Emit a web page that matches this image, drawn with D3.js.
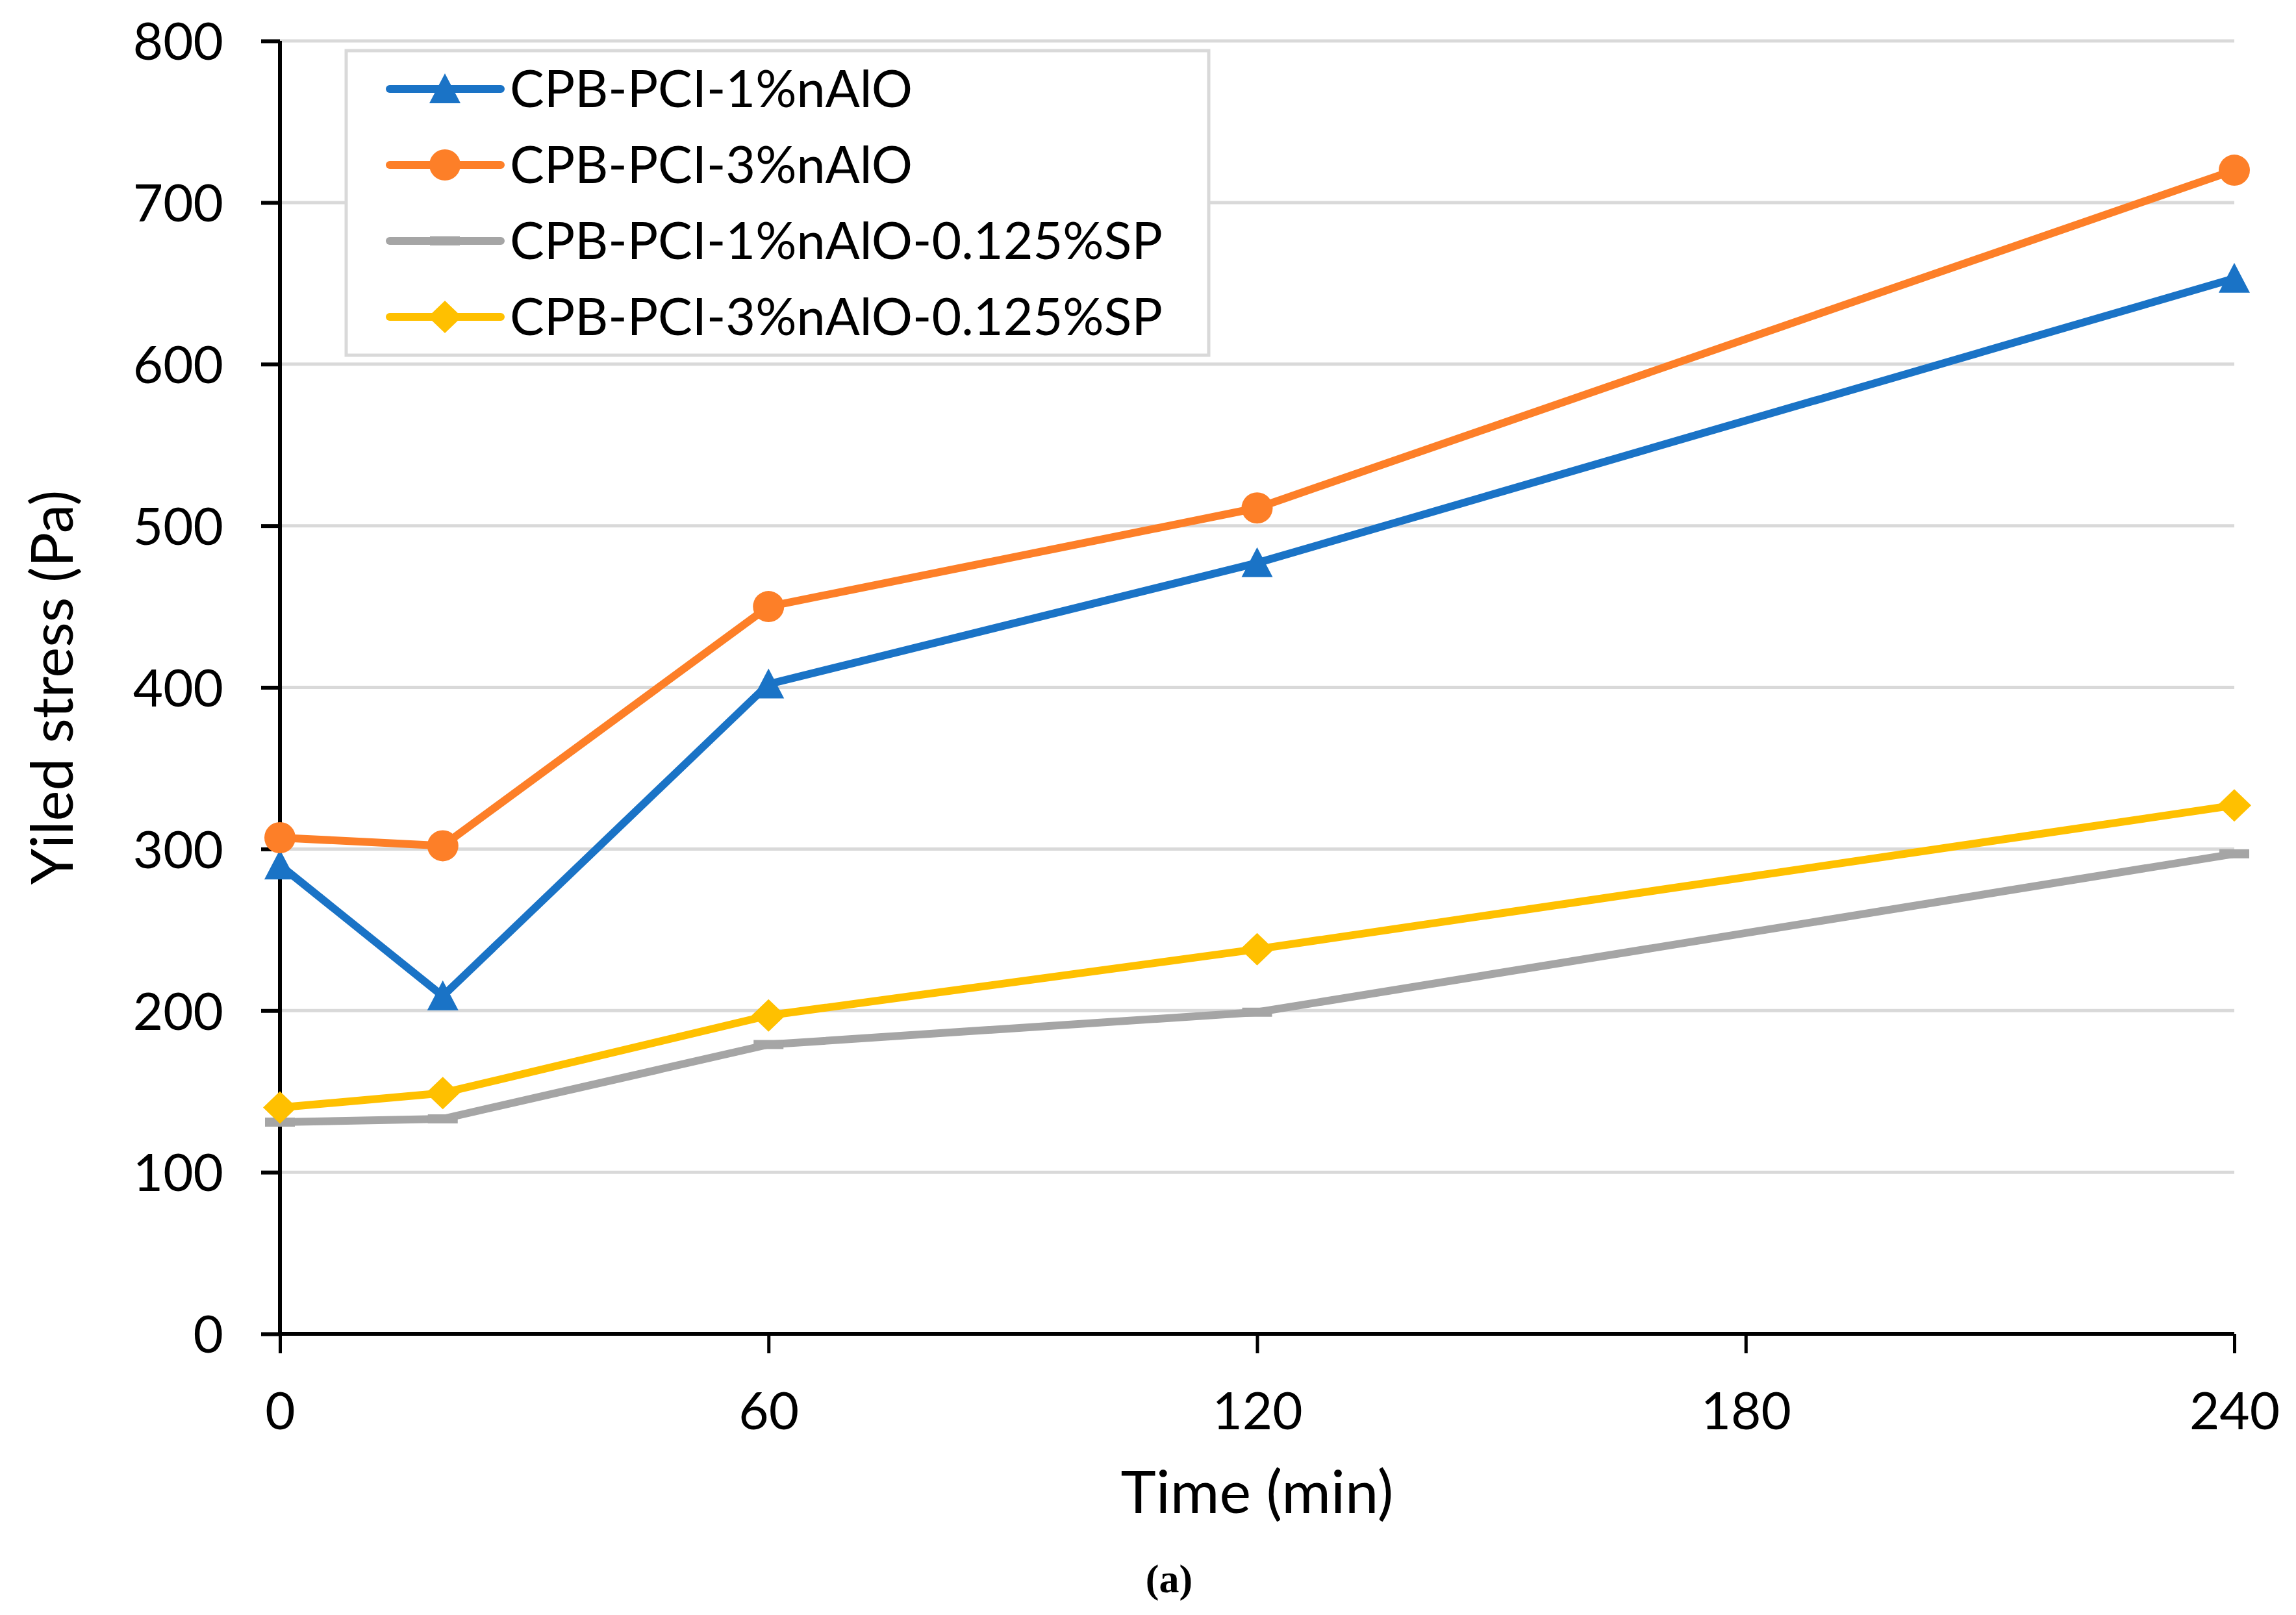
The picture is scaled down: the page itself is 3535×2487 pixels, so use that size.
<!DOCTYPE html>
<html>
<head>
<meta charset="utf-8">
<script src="https://cdn.jsdelivr.net/npm/d3@7"></script>
<style>
  body { margin: 0; background: #fff; }
  text { font-family: Lato, "Open Sans", sans-serif; fill: #000; }
</style>
</head>
<body>
<div id="chart"></div>
<script>
// data
var times = [0, 20, 60, 120, 240];
var seriesNames = ["CPB-PCI-1%nAlO", "CPB-PCI-3%nAlO", "CPB-PCI-1%nAlO-0.125%SP", "CPB-PCI-3%nAlO-0.125%SP"];
var pci1 = [290, 209, 402, 477, 653];
var pci3 = [307, 302, 450, 511, 720];
var pci1sp = [131, 133, 179, 199, 297];
var pci3sp = [140, 149, 197, 238, 327];
var xTicks = [0, 60, 120, 180, 240];
var yTicks = [0, 100, 200, 300, 400, 500, 600, 700, 800];

var colors = ["#1a73c6", "#fd7f28", "#a5a5a5", "#ffc000"];
var markers = ["triangle", "circle", "dash", "diamond"];

var svgWidth = 3535;
var svgHeight = 2487;
var margin = { top: 63, right: 95, bottom: 433, left: 431 };
var width = svgWidth - margin.left - margin.right;
var height = svgHeight - margin.top - margin.bottom;

var svg = d3.select("#chart")
    .append("svg")
    .attr("width", svgWidth)
    .attr("height", svgHeight);

var chartGroup = svg.append("g")
    .attr("transform", `translate(${margin.left},${margin.top})`);

var x = d3.scaleLinear().domain([0, 240]).range([0, width]);
var y = d3.scaleLinear().domain([0, 800]).range([height, 0]);

// gridlines
chartGroup.selectAll(".grid")
    .data(yTicks.filter(d => d > 0))
    .enter().append("line")
    .attr("x1", 0).attr("x2", width)
    .attr("y1", d => y(d)).attr("y2", d => y(d))
    .attr("stroke", "#d9d9d9")
    .attr("stroke-width", 5);

// axes
var yAxis = chartGroup.append("g")
    .call(d3.axisLeft(y).tickValues(yTicks).tickSize(29).tickPadding(58));
yAxis.select(".domain").attr("stroke-width", 6).attr("d", `M0,${height}V0`);
yAxis.selectAll(".tick line").attr("stroke-width", 6);
yAxis.selectAll("text").attr("font-size", 80).attr("dy", "0.36em");

var xAxis = chartGroup.append("g")
    .attr("transform", `translate(0,${height})`)
    .call(d3.axisBottom(x).tickValues(xTicks).tickSize(30).tickPadding(60));
xAxis.select(".domain").attr("stroke-width", 6).attr("d", `M0,0H${width}`);
xAxis.selectAll(".tick line").attr("stroke-width", 5);
xAxis.selectAll("text").attr("font-size", 80).attr("dy", "0.71em");

// marker shapes
function markerPath(type) {
    if (type === "triangle") return "M0,-24L24,22L-24,22Z";
    if (type === "circle") return d3.symbol(d3.symbolCircle, Math.PI * 24 * 24)();
    if (type === "diamond") return "M0,-25L26,0L0,25L-26,0Z";
    return "M-23,-7H23V7H-23Z";
}

var allSeries = [pci1, pci3, pci1sp, pci3sp];

var line = d3.line()
    .x((d, i) => x(times[i]))
    .y(d => y(d));

allSeries.forEach(function(values, s) {
    chartGroup.append("path")
        .datum(values)
        .attr("fill", "none")
        .attr("stroke", colors[s])
        .attr("stroke-width", 12)
        .attr("stroke-linejoin", "round")
        .attr("d", line);

    chartGroup.selectAll(".m" + s)
        .data(values)
        .enter().append("path")
        .attr("transform", (d, i) => `translate(${x(times[i])},${y(d)})`)
        .attr("d", markerPath(markers[s]))
        .attr("fill", colors[s]);
});

// legend
var legend = svg.append("g").attr("transform", "translate(533,78)");
legend.append("rect")
    .attr("width", 1328).attr("height", 469)
    .attr("fill", "#fff")
    .attr("stroke", "#d9d9d9")
    .attr("stroke-width", 5);

seriesNames.forEach(function(name, s) {
    var row = legend.append("g").attr("transform", `translate(0,${59 + s * 117})`);
    row.append("line")
        .attr("x1", 67).attr("x2", 238)
        .attr("stroke", colors[s])
        .attr("stroke-width", 12)
        .attr("stroke-linecap", "round");
    row.append("path")
        .attr("transform", "translate(152,0)")
        .attr("d", markerPath(markers[s]))
        .attr("fill", colors[s]);
    row.append("text")
        .attr("x", 252)
        .attr("dy", "0.36em")
        .attr("font-size", 79)
        .text(name);
});

// axis titles
svg.append("text")
    .attr("x", margin.left + width / 2)
    .attr("y", 2330)
    .attr("text-anchor", "middle")
    .attr("font-size", 92)
    .text("Time (min)");

svg.append("text")
    .attr("transform", `translate(112,${margin.top + height / 2}) rotate(-90)`)
    .attr("text-anchor", "middle")
    .attr("font-size", 89)
    .text("Yiled stress (Pa)");

svg.append("text")
    .attr("x", 1800)
    .attr("y", 2452)
    .attr("text-anchor", "middle")
    .attr("font-weight", "bold")
    .attr("font-size", 62)
    .style("font-family", "'Liberation Serif', serif")
    .text("(a)");
</script>
</body>
</html>
